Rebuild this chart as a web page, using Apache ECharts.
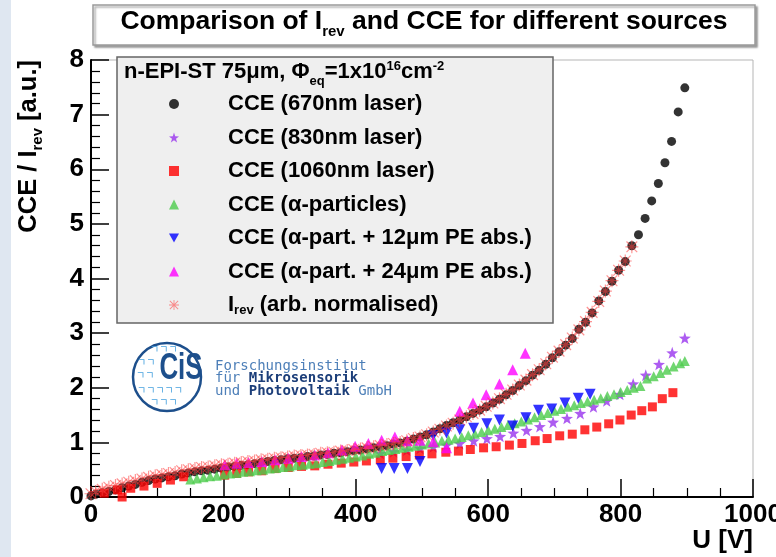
<!DOCTYPE html>
<html>
<head>
<meta charset="utf-8">
<script src="https://cdn.jsdelivr.net/npm/echarts/dist/echarts.min.js"></script>
<style>
html, body { margin: 0; padding: 0; background: #fff; }
#main { width: 776px; height: 557px; }
</style>
</head>
<body>
<div id="main"></div>
<script>
// CCE (670nm laser)
var u670 = [0,7,17,27,37,47,57,67,77,87,97,107,117,127,137,147,157,167,177,187,197,207,217,227,237,247,257,267,277,287,297,307,317,327,337,347,357,367,377,387,397,407,417,427,437,447,457,467,477,487,497,507,517,527,537,547,557,567,577,587,597,607,617,627,637,647,657,667,677,687,697,707,717,727,737,747,757,767,777,787,797,807,817,827,837,847,857,867,877,887,897];
var cce670 = [0.02,0.05,0.08,0.10,0.13,0.17,0.20,0.23,0.27,0.30,0.33,0.35,0.37,0.39,0.42,0.44,0.46,0.48,0.49,0.51,0.53,0.55,0.56,0.58,0.59,0.61,0.63,0.65,0.67,0.68,0.70,0.71,0.72,0.74,0.75,0.77,0.78,0.80,0.81,0.83,0.85,0.86,0.88,0.90,0.92,0.94,0.97,0.99,1.02,1.06,1.10,1.14,1.19,1.25,1.31,1.36,1.41,1.47,1.53,1.59,1.65,1.72,1.79,1.87,1.95,2.04,2.13,2.23,2.32,2.43,2.55,2.66,2.78,2.90,3.07,3.20,3.37,3.59,3.76,3.95,4.15,4.31,4.60,4.80,5.10,5.42,5.74,6.12,6.51,7.05,7.49];

// CCE (830nm laser)
var u830 = [437,457,477,497,517,537,557,578,598,618,638,658,678,698,719,739,759,779,799,819,838,858,878,897];
var cce830 = [0.80,0.83,0.86,0.89,0.92,0.95,0.98,1.03,1.07,1.11,1.17,1.22,1.29,1.37,1.44,1.53,1.65,1.76,1.88,2.07,2.23,2.43,2.64,2.91];

// CCE (1060nm laser)
var u1060 = [20,40,47,60,80,100,120,140,202,220,238,258,278,298,318,338,358,378,397,416,437,456,476,496,515,536,555,573,593,612,632,651,671,689,708,727,746,764,782,799,816,832,848,863,879];
var cce1060 = [0.07,0.13,0.00,0.16,0.20,0.25,0.31,0.37,0.40,0.43,0.46,0.48,0.52,0.54,0.56,0.57,0.60,0.62,0.64,0.66,0.68,0.71,0.74,0.77,0.79,0.82,0.84,0.87,0.90,0.92,0.95,0.98,1.03,1.07,1.12,1.15,1.23,1.28,1.34,1.41,1.50,1.58,1.65,1.80,1.91];

// CCE (alpha particles)
var uAlpha = [150,160,170,180,190,200,210,220,230,240,250,260,270,280,290,300,310,320,330,340,350,360,370,380,390,400,410,420,430,440,450,460,470,480,490,500,510,520,530,540,550,560,570,580,590,600,610,620,630,640,650,660,670,680,690,700,710,720,730,740,750,760,770,780,790,800,810,820,830,840,850,860,870,880,890,897];
var cceAlpha = [0.32,0.34,0.36,0.38,0.39,0.41,0.43,0.44,0.46,0.47,0.49,0.50,0.52,0.53,0.55,0.56,0.58,0.59,0.61,0.62,0.64,0.66,0.68,0.70,0.72,0.74,0.76,0.79,0.81,0.84,0.86,0.88,0.90,0.92,0.94,0.96,0.98,1.00,1.03,1.05,1.07,1.10,1.13,1.16,1.19,1.22,1.25,1.28,1.32,1.35,1.38,1.42,1.46,1.50,1.54,1.58,1.61,1.65,1.68,1.72,1.75,1.78,1.81,1.85,1.88,1.92,1.96,2.00,2.03,2.17,2.21,2.27,2.33,2.39,2.45,2.49];

// CCE (alpha + 12um PE absorber)
var u12 = [439,458,478,497,517,537,557,578,598,617,637,657,676,696,716,736,754];
var cce12 = [0.52,0.52,0.52,0.65,1.12,1.17,1.23,1.26,1.34,1.41,1.30,1.45,1.59,1.61,1.72,1.81,1.88];

// CCE (alpha + 24um PE absorber)
var u24 = [202,220,238,258,278,298,318,338,358,379,399,419,439,459,478,497,517,537,557,577,597,617,637,656];
var cce24 = [0.59,0.62,0.63,0.65,0.68,0.71,0.74,0.77,0.81,0.86,0.93,0.98,1.04,1.10,1.03,1.04,1.01,0.90,1.57,1.72,1.87,2.07,2.33,2.63];

// I_rev (arb. normalised)
var uIrev = [0,7,17,27,37,47,57,67,77,87,97,107,117,127,137,147,157,167,177,187,197,207,217,227,237,247,257,267,277,287,297,307,317,327,337,347,357,367,377,387,397,407,417,427,437,447,457,467,477,487,497,507,517,527,537,547,557,567,577,587,597,607,617,627,637,647,657,667,677,687,697,707,717,727,737,747,757,767,777,787,797,807,817];
var irev = [0.06,0.10,0.14,0.18,0.21,0.24,0.27,0.30,0.33,0.36,0.39,0.41,0.43,0.45,0.48,0.50,0.52,0.54,0.55,0.57,0.59,0.60,0.62,0.63,0.65,0.66,0.68,0.69,0.71,0.72,0.73,0.75,0.76,0.77,0.78,0.80,0.81,0.82,0.84,0.85,0.87,0.88,0.90,0.92,0.94,0.96,0.98,1.00,1.03,1.07,1.10,1.14,1.19,1.24,1.30,1.35,1.41,1.47,1.53,1.59,1.66,1.72,1.80,1.88,1.96,2.05,2.14,2.24,2.33,2.44,2.56,2.67,2.79,2.91,3.06,3.21,3.38,3.58,3.77,3.96,4.15,4.32,4.58];

var FONT = '"Liberation Sans", Arial, Helvetica, sans-serif';
var starPath = 'path://M10 0L12.4 7.2L20 7.6L14 12.3L16.2 19.6L10 15.4L3.8 19.6L6 12.3L0 7.6L7.6 7.2Z';
var asteriskPath = 'path://M9.1 0H10.9V20H9.1Z M0 9.1H20V10.9H0Z M2.4 1.1L18.9 17.6L17.6 18.9L1.1 2.4Z M17.6 1.1L18.9 2.4L2.4 18.9L1.1 17.6Z';
var downTriangle = 'path://M0 0L10 0L5 9Z';

var legendText = {
    c670: '{sp| }{b|CCE (670nm laser)}',
    c830: '{sp| }{b|CCE (830nm laser)}',
    c1060: '{sp| }{b|CCE (1060nm laser)}',
    alpha: '{sp| }{b|CCE (α-particles)}',
    pe12: '{sp| }{b|CCE (α-part. + 12μm PE abs.)}',
    pe24: '{sp| }{b|CCE (α-part. + 24μm PE abs.)}',
    irev: '{sp| }{b|I}{sub|rev}{b| (arb. normalised)}'
};

function zip(u, v) {
    return u.map(function (x, i) { return [x, v[i]]; });
}

function scatter(name, u, v, symbol, size, color, extra) {
    var s = {
        name: name,
        type: 'scatter',
        data: zip(u, v),
        symbol: symbol,
        symbolSize: size,
        itemStyle: { color: color },
        emphasis: { disabled: true },
        animation: false
    };
    for (var k in extra) s[k] = extra[k];
    return s;
}

var myChart = echarts.init(document.getElementById('main'));

var option = {
    backgroundColor: '#ffffff',
    animation: false,
    grid: {
        left: 91, right: 23, top: 60, bottom: 60,
        containLabel: false,
        outerBoundsMode: 'none',
        show: true,
        borderColor: '#b5b5b5',
        borderWidth: 1
    },
    xAxis: {
        type: 'value',
        min: 0, max: 1000, interval: 200,
        axisLine: { show: true, onZero: false, lineStyle: { color: '#000', width: 2 } },
        axisTick: { show: true, inside: true, length: 18, lineStyle: { color: '#000', width: 1.5 } },
        minorTick: { show: true, splitNumber: 4, length: 9, lineStyle: { color: '#000', width: 1.2 } },
        splitLine: { show: false },
        minorSplitLine: { show: false },
        axisLabel: {
            color: '#000', fontFamily: FONT, fontWeight: 'bold', fontSize: 26, margin: 5,
            formatter: function (v) { return String(v); }
        }
    },
    yAxis: {
        type: 'value',
        min: 0, max: 8, interval: 1,
        axisLine: { show: true, onZero: false, lineStyle: { color: '#000', width: 2 } },
        axisTick: { show: true, inside: true, length: 18, lineStyle: { color: '#000', width: 1.5 } },
        minorTick: { show: true, splitNumber: 5, length: 9, lineStyle: { color: '#000', width: 1.2 } },
        splitLine: { show: false },
        minorSplitLine: { show: false },
        axisLabel: { color: '#000', fontFamily: FONT, fontWeight: 'bold', fontSize: 26, margin: 7 }
    },
    legend: {
        orient: 'vertical',
        left: 169, top: 93,
        padding: 0,
        itemWidth: 10, itemHeight: 10,
        itemGap: 11.5,
        selectedMode: false,
        data: ['c670', 'c830', 'c1060', 'alpha', { name: 'pe12', icon: downTriangle }, 'pe24', 'irev'],
        formatter: function (name) { return legendText[name]; },
        textStyle: {
            color: '#000',
            fontFamily: FONT,
            fontWeight: 'bold',
            fontSize: 22,
            lineHeight: 22,
            rich: {
                sp: { width: 44, lineHeight: 22 },
                b: { fontFamily: FONT, fontWeight: 'bold', fontSize: 22, lineHeight: 22, color: '#000' },
                sub: { fontFamily: FONT, fontWeight: 'bold', fontSize: 13, lineHeight: 22, color: '#000', verticalAlign: 'top', padding: [10, 0, 0, 0] }
            }
        }
    },
    graphic: [
        // faint page edge on the left
        { type: 'rect', shape: { x: 0, y: 0, width: 11, height: 557 }, style: { fill: '#dfe7f1' }, z: 0 },
        // title box
        {
            type: 'rect', shape: { x: 93, y: 5, width: 662, height: 40 },
            style: { fill: '#fff', stroke: '#9a9a9a', lineWidth: 1.5, shadowColor: 'rgba(0,0,0,0.35)', shadowOffsetX: 2, shadowOffsetY: 2, shadowBlur: 2 },
            z: 10
        },
        {
            type: 'text', x: 424, y: 8, z: 11,
            style: {
                text: '{t|Comparison of I}{s|rev}{t| and CCE for different sources}',
                align: 'center', verticalAlign: 'top',
                rich: {
                    t: { fontFamily: FONT, fontWeight: 'bold', fontSize: 26.5, lineHeight: 28, fill: '#000' },
                    s: { fontFamily: FONT, fontWeight: 'bold', fontSize: 15, lineHeight: 28, fill: '#000', verticalAlign: 'top', padding: [16, 0, 0, 0] }
                }
            }
        },
        // legend box
        {
            type: 'rect', shape: { x: 117, y: 57, width: 436, height: 266 },
            style: { fill: '#efefef', stroke: '#666', lineWidth: 1.5 },
            z: 3
        },
        {
            type: 'text', x: 124, y: 59, z: 5,
            style: {
                text: '{b|n-EPI-ST 75μm, Φ}{sub|eq}{b|=1x10}{sup|16}{b|cm}{sup|-2}',
                align: 'left', verticalAlign: 'top',
                rich: {
                    b: { fontFamily: FONT, fontWeight: 'bold', fontSize: 22, lineHeight: 26, fill: '#000' },
                    sub: { fontFamily: FONT, fontWeight: 'bold', fontSize: 13, lineHeight: 26, fill: '#000', verticalAlign: 'top', padding: [16, 0, 0, 0] },
                    sup: { fontFamily: FONT, fontWeight: 'bold', fontSize: 13, lineHeight: 26, fill: '#000', verticalAlign: 'top', padding: [1, 0, 0, 0] }
                }
            }
        },
        // y axis title
        {
            type: 'text', x: 29, y: 60, rotation: Math.PI / 2, z: 5,
            style: {
                text: '{b|CCE / I}{s|rev}{b| [a.u.]}',
                align: 'right', verticalAlign: 'middle',
                rich: {
                    b: { fontFamily: FONT, fontWeight: 'bold', fontSize: 25.5, lineHeight: 27, fill: '#000' },
                    s: { fontFamily: FONT, fontWeight: 'bold', fontSize: 15, lineHeight: 27, fill: '#000', verticalAlign: 'top', padding: [15, 0, 0, 0] }
                }
            }
        },
        // x axis title
        {
            type: 'text', x: 753, y: 541, z: 5,
            style: { text: 'U [V]', font: 'bold 26px ' + FONT, fill: '#000', align: 'right', verticalAlign: 'middle' }
        },
        // CiS logo
        {
            type: 'circle', shape: { cx: 167, cy: 377, r: 34 }, z: 1,
            style: { fill: '#fff', stroke: '#1d4f8c', lineWidth: 2.5 }
        },
        {
            type: 'text', x: 150, y: 349, z: 1,
            style: { text: 'ㄱㄱㄱ', font: '10px "Noto Sans CJK KR"', fill: '#4aa3df', align: 'left', verticalAlign: 'middle' }
        },
        {
            type: 'text', x: 137, y: 362, z: 1,
            style: { text: 'ㄱㄱ', font: '10px "Noto Sans CJK KR"', fill: '#4aa3df', align: 'left', verticalAlign: 'middle' }
        },
        {
            type: 'text', x: 136, y: 375, z: 1,
            style: { text: 'ㄱㄱ', font: '10px "Noto Sans CJK KR"', fill: '#4aa3df', align: 'left', verticalAlign: 'middle' }
        },
        {
            type: 'text', x: 137, y: 390, z: 1,
            style: { text: 'ㄱㄱㄱㄱㄱ', font: '10px "Noto Sans CJK KR"', fill: '#4aa3df', align: 'left', verticalAlign: 'middle' }
        },
        {
            type: 'text', x: 150, y: 402, z: 1,
            style: { text: 'ㄱㄱㄱ', font: '10px "Noto Sans CJK KR"', fill: '#4aa3df', align: 'left', verticalAlign: 'middle' }
        },
        {
            type: 'text', x: 181, y: 369, scaleX: 0.72, z: 1,
            style: { text: 'CiS', font: 'bold 36px ' + FONT, fill: '#1d4f8c', align: 'center', verticalAlign: 'middle' }
        },
        {
            type: 'text', x: 215, y: 360, z: 1,
            style: {
                text: '{r|Forschungsinstitut}\n{r|für }{k|Mikrosensorik}\n{r|und }{k|Photovoltaik}{r| GmbH}',
                align: 'left', verticalAlign: 'top',
                rich: {
                    r: { fontFamily: '"DejaVu Sans Mono", monospace', fontSize: 14, lineHeight: 12.5, fill: '#4d7fb8' },
                    k: { fontFamily: '"DejaVu Sans Mono", monospace', fontSize: 14, fontWeight: 'bold', lineHeight: 12.5, fill: '#1d3f7a' }
                }
            }
        }
    ],
    series: [
        scatter('c670', u670, cce670, 'circle', 9, '#000000'),
        scatter('c830', u830, cce830, starPath, 12, '#9933ee'),
        scatter('c1060', u1060, cce1060, 'rect', 9, '#ff0000'),
        scatter('alpha', uAlpha, cceAlpha, 'triangle', 10, '#4ccc4c'),
        scatter('pe12', u12, cce12, 'triangle', 11, '#0000ff', { symbolRotate: 180 }),
        scatter('pe24', u24, cce24, 'triangle', 11, '#ff00ff'),
        scatter('irev', uIrev, irev, asteriskPath, 13, 'rgba(255,60,60,0.7)')
    ]
};

myChart.setOption(option);
</script>
</body>
</html>
